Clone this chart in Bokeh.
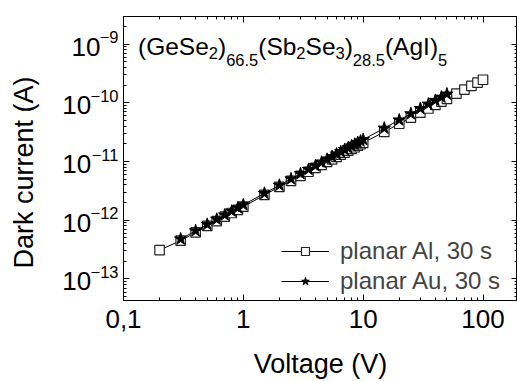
from bokeh.plotting import figure
from bokeh.models import (LogAxis, FixedTicker, CustomJSTickFormatter, Label,
                          Range1d, Legend)
from bokeh.embed import file_html
from bokeh.resources import INLINE

# ---- data ----
al_voltage = [0.2, 0.3, 0.4, 0.5, 0.6, 0.7, 0.8, 0.9, 1.0,
              1.5, 2.0, 2.5, 3.0, 3.5, 4.0, 4.5, 5.0, 5.5, 6.0, 6.5, 7.0, 7.5,
              8.0, 8.5, 9.0, 9.5, 10,
              15, 20, 25, 30, 35, 40, 45, 50, 60, 70, 80, 90, 100]
al_current = [3.1e-13, 4.5e-13, 6.2e-13, 8.0e-13, 9.7e-13, 1.15e-12, 1.33e-12, 1.5e-12, 1.7e-12,
              2.7e-12, 3.7e-12, 4.7e-12, 5.7e-12, 6.7e-12, 7.8e-12, 8.8e-12, 9.9e-12, 1.09e-11,
              1.2e-11, 1.31e-11, 1.42e-11, 1.53e-11, 1.64e-11, 1.75e-11, 1.86e-11, 1.97e-11, 2.08e-11,
              3.2e-11, 4.4e-11, 5.6e-11, 6.8e-11, 8.0e-11, 9.2e-11, 1.05e-10, 1.17e-10,
              1.43e-10, 1.68e-10, 1.95e-10, 2.2e-10, 2.47e-10]

au_voltage = [0.3, 0.4, 0.5, 0.6, 0.7, 0.8, 0.9, 1.0,
              1.5, 2.0, 2.5, 3.0, 3.5, 4.0, 4.5, 5.0, 5.5, 6.0, 6.5, 7.0, 7.5,
              8.0, 8.5, 9.0, 9.5, 10,
              15, 20, 25, 30, 35, 40, 45, 50]
au_current = [4.8e-13, 6.6e-13, 8.5e-13, 1.04e-12, 1.23e-12, 1.43e-12, 1.63e-12, 1.83e-12,
              2.87e-12, 3.95e-12, 5.06e-12, 6.2e-12, 7.35e-12, 8.5e-12, 9.7e-12, 1.09e-11,
              1.21e-11, 1.34e-11, 1.46e-11, 1.59e-11, 1.71e-11, 1.84e-11, 1.97e-11, 2.1e-11,
              2.23e-11, 2.36e-11,
              3.7e-11, 5.1e-11, 6.5e-11, 8.0e-11, 9.5e-11, 1.1e-10, 1.25e-10, 1.41e-10]

series_labels = ["planar Al, 30 s", "planar Au, 30 s"]

x_ticks = [0.1, 1, 10, 100]
x_tick_labels = ["0,1", "1", "10", "100"]
x_minor = [m * d for d in [0.1, 1, 10, 100] for m in range(2, 10)]
y_ticks = [1e-13, 1e-12, 1e-11, 1e-10, 1e-9]
y_minor = [m * d for d in [1e-14, 1e-13, 1e-12, 1e-11, 1e-10, 1e-9] for m in range(2, 10)]

# composition annotation: (text, 0 = main / 1 = subscript / 2 = lower subscript)
title_parts = [("(GeSe", 0), ("2", 1), (")", 0), ("66.5", 2), ("(Sb", 0), ("2", 1),
               ("Se", 0), ("3", 1), (")", 0), ("28.5", 2), ("(AgI)", 0), ("5", 2)]

FONT = "Liberation Sans"
PX_PER_DECADE = 59.7          # vertical scale of the frame, used to nudge tick labels

p = figure(width=517, height=381, x_axis_type="log", y_axis_type="log",
           x_range=Range1d(0.1, 194), y_range=Range1d(4.3e-14, 2.95e-9),
           output_backend="svg", toolbar_location=None,
           min_border_left=123, min_border_right=0, min_border_top=16,
           min_border_bottom=76)
p.grid.visible = False
p.outline_line_color = "black"
p.outline_line_width = 1
p.background_fill_color = "white"
p.border_fill_color = "white"

x_fmt = CustomJSTickFormatter(args=dict(tvals=x_ticks, tlabels=x_tick_labels), code="""
for (let i = 0; i < tvals.length; i++) {
  if (Math.abs(Math.log10(tick) - Math.log10(tvals[i])) < 1e-6) return tlabels[i];
}
return "";
""")
blank_fmt = CustomJSTickFormatter(code="return '';")

def style_axis(ax):
    ax.axis_line_color = "black"
    ax.axis_line_width = 1
    ax.major_tick_in = 6
    ax.major_tick_out = 0
    ax.minor_tick_in = 3
    ax.minor_tick_out = 0
    ax.major_tick_line_color = "black"
    ax.minor_tick_line_color = "black"
    ax.major_label_text_font = FONT
    ax.major_label_text_color = "black"
    ax.axis_label_text_font = FONT
    ax.axis_label_text_font_style = "normal"
    ax.axis_label_text_color = "black"

def label_only(ax):
    ax.axis_line_color = None
    ax.major_tick_line_color = None
    ax.minor_tick_line_color = None
    ax.major_tick_in = 0
    ax.major_tick_out = 0
    ax.minor_tick_in = 0
    ax.minor_tick_out = 0
    ax.major_label_text_font = FONT
    ax.major_label_text_color = "black"
    ax.axis_label_text_font = FONT
    ax.axis_label_text_font_style = "normal"
    ax.axis_label_text_color = "black"

xa = p.xaxis[0]
xa.ticker = FixedTicker(ticks=x_ticks, minor_ticks=x_minor)
xa.formatter = x_fmt
style_axis(xa)
xa.major_label_text_font_size = "26px"
xa.major_label_standoff = 9
xa.axis_label = "Voltage (V)"
xa.axis_label_text_font_size = "27px"
xa.axis_label_standoff = 18

# left side: frame axis with the ticks only
ya = p.yaxis[0]
ya.ticker = FixedTicker(ticks=y_ticks, minor_ticks=y_minor)
ya.formatter = blank_fmt
style_axis(ya)
ya.major_label_text_font_size = "0px"
ya.major_label_standoff = 0
ya.axis_label_standoff = 0

# exponent labels (raised), then the "10" bases, stacked outward
raise_f = 10 ** (7.0 / PX_PER_DECADE)
drop_f = 10 ** (-2.5 / PX_PER_DECADE)
exp_axis = LogAxis(ticker=FixedTicker(ticks=[t * raise_f for t in y_ticks], minor_ticks=[]),
                   formatter=CustomJSTickFormatter(code="""
const e = Math.round(Math.log10(tick));
return String(e).replace("-", "\\u2212");
"""))
label_only(exp_axis)
exp_axis.major_label_text_font_size = "16.5px"
exp_axis.major_label_standoff = 5
exp_axis.axis_label_standoff = 0

base_axis = LogAxis(ticker=FixedTicker(ticks=[t * drop_f for t in y_ticks], minor_ticks=[]),
                    formatter=CustomJSTickFormatter(code="""
const e = Math.round(Math.log10(tick));
return Math.abs(e) >= 10 ? "10\\u00a0\\u200a" : "10";
"""))
label_only(base_axis)
base_axis.major_label_text_font_size = "26px"
base_axis.major_label_standoff = -13
base_axis.axis_label = "Dark current (A)\u00a0\u00a0\u00a0\u2009"
base_axis.axis_label_text_font_size = "27px"
base_axis.axis_label_standoff = 20
p.add_layout(exp_axis, "left")
p.add_layout(base_axis, "left")

top = LogAxis(ticker=FixedTicker(ticks=x_ticks, minor_ticks=x_minor), formatter=blank_fmt)
right = LogAxis(ticker=FixedTicker(ticks=y_ticks, minor_ticks=y_minor), formatter=blank_fmt)
for ax in (top, right):
    style_axis(ax)
    ax.major_label_text_font_size = "0px"
    ax.major_label_standoff = 0
    ax.axis_label_standoff = 0
p.add_layout(top, "above")
p.add_layout(right, "right")

# ---- data renderers ----
l1 = p.line(al_voltage, al_current, line_color="black", line_width=1)
s1 = p.scatter(al_voltage, al_current, marker="square", size=9.5, fill_color="white",
               line_color="#222222", line_width=1.2)
l2 = p.line(au_voltage, au_current, line_color="black", line_width=1)
s2 = p.scatter(au_voltage, au_current, marker="star", size=13, fill_color="black",
               line_color="black", line_width=1)

legend = Legend(items=[(series_labels[0], [l1, s1]), (series_labels[1], [l2, s2])],
                location=(158, 5), border_line_color=None,
                background_fill_alpha=0, label_text_font=FONT,
                label_text_font_size="24px", glyph_width=48, glyph_height=20,
                label_standoff=11, spacing=2, padding=0, margin=0)
p.add_layout(legend)

# ---- composition annotation ----
sizes = {0: 24.5, 1: 16.5, 2: 16.5}
widths = {"(GeSe": 2.89, "2": 0.556, ")": 0.333, "66.5": 1.946, "(Sb": 1.556,
          "Se": 1.223, "3": 0.556, "28.5": 1.946, "(AgI)": 2.167, "5": 0.556}
drops = {0: -2, 1: -9, 2: -16}
dx = 14.5
for txt, lvl in title_parts:
    p.add_layout(Label(x=0.1, y=1e-9, x_offset=dx, y_offset=drops[lvl], text=txt,
                       text_font=FONT, text_font_size=f"{sizes[lvl]}px",
                       text_baseline="alphabetic", text_align="left", text_color="black"))
    dx += widths[txt] * sizes[lvl]

open("out.html", "w").write(file_html(p, INLINE))
